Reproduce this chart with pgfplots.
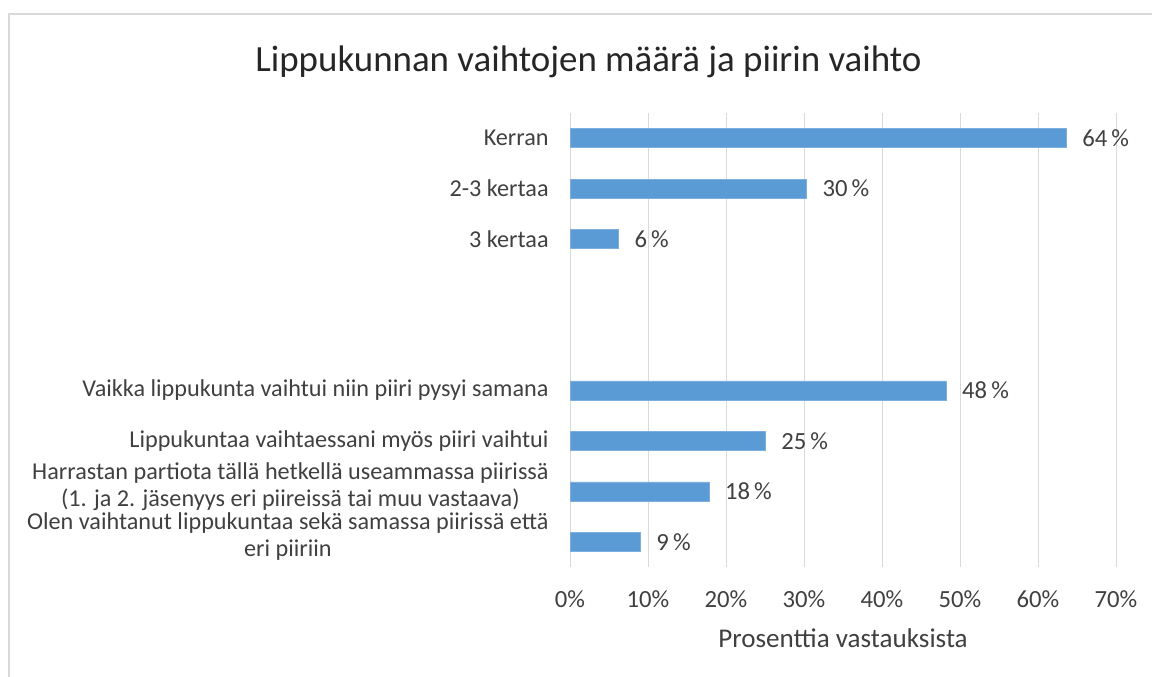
\documentclass[border=0pt]{standalone}
\usepackage{pgfplots}
\pgfplotsset{compat=1.18}
\usepackage{fontspec}
\setmainfont{Carlito}
\definecolor{barblue}{HTML}{5B9BD5}
\definecolor{gridgray}{HTML}{D9D9D9}
\definecolor{txt}{HTML}{404040}
\begin{document}
\begin{tikzpicture}[x=0.75pt,y=0.75pt]
% frame, measured in pixels of the reference
\path[use as bounding box] (0,0) rectangle (1152,677);
\draw[gridgray,line width=1.5pt] (9,0) -- (9,663) -- (1152,663);
\node[font=\fontsize{27.7}{32}\selectfont,text=black!85] at (588.5,615)
  {Lippukunnan vaihtojen määrä ja piirin vaihto};
\begin{axis}[
  at={(632.25pt,252.75pt)},anchor=center,
  width=409.5pt,height=340.5pt,scale only axis,
  xbar,bar width=14.25pt,
  xmin=0,xmax=70,ymin=0.5,ymax=9.5,y dir=reverse,
  xtick={0,10,...,70},
  xticklabel={\pgfmathprintnumber{\tick}\%},
  ytick={1,2,3,6,7},
  yticklabels={Kerran,2-3 kertaa,3 kertaa,
    Vaikka lippukunta vaihtui niin piiri pysyi samana,
    Lippukuntaa vaihtaessani myös piiri vaihtui},
  extra y ticks={8,9},
  extra y tick labels={
    {Harrastan partiota tällä hetkellä useammassa piirissä\\(1. ja 2. jäsenyys eri piireissä tai muu vastaava)},
    {Olen vaihtanut lippukuntaa sekä samassa piirissä että\\eri piiriin}},
  extra y tick style={yticklabel style={yshift=3.6pt}},
  /pgf/number format/assume math mode=true,
  xmajorgrids,grid style={gridgray,line width=0.75pt},
  axis line style={draw=none},major tick length=0pt,
  tick label style={font=\fontsize{18.5}{19.5}\selectfont,text=txt},
  yticklabel style={align=center,xshift=-12.5pt,
    font=\fontsize{18.15}{20.25}\selectfont},
  xticklabel style={yshift=-14.5pt},
  xlabel={Prosenttia vastauksista},
  xlabel style={font=\fontsize{20.3}{22}\selectfont,text=txt,
    at={(axis description cs:0.5,0)},anchor=center,yshift=-53.25pt},
  nodes near coords={\pgfmathprintnumber[fixed,precision=0]{\pgfplotspointmeta}\,\%},
  nodes near coords style={anchor=west,inner sep=0pt,xshift=12pt,
    font=\fontsize{18.5}{19.5}\selectfont,text=txt},
  point meta=x,
]
\addplot[fill=barblue,draw=barblue!80!white] coordinates {
  (63.6,1) (30.3,2) (6.2,3) (48.2,6) (25.0,7) (17.8,8) (9.0,9)};
\end{axis}
\end{tikzpicture}
\end{document}
